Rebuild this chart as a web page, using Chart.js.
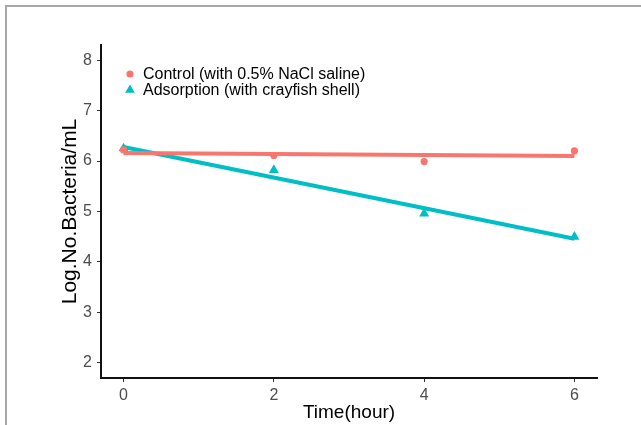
<!DOCTYPE html>
<html>
<head>
<meta charset="utf-8">
<script src="https://cdn.jsdelivr.net/npm/chart.js@4"></script>
<style>
  html,body{margin:0;padding:0;background:#fff;}
  #wrap{position:relative;width:641px;height:425px;overflow:hidden;}
  #frame{position:absolute;left:5px;top:5px;right:-10px;bottom:-10px;border-top:2px solid #a8a8a8;border-left:2px solid #a8a8a8;}
  canvas{position:absolute;left:0;top:0;}
</style>
</head>
<body>
<div id="wrap">
  <div id="frame"></div>
  <canvas id="c" width="641" height="425"></canvas>
</div>
<script>
/* ---- data ---- */
const timeX      = [0, 2, 4, 6];
const controlY   = [6.22, 6.11, 5.99, 6.20];
const adsorbY    = [6.25, 5.82, 4.96, 4.50];
const fitX       = [0, 6];
const controlFit = [6.16, 6.10];
const adsorbFit  = [6.28, 4.46];
const xTicks = [0, 2, 4, 6];
const yTicks = [2, 3, 4, 5, 6, 7, 8];
const labels = ['Control (with 0.5% NaCl saline)', 'Adsorption (with crayfish shell)'];

const RED = '#F8766D', TEAL = '#00BFC4';
const FONT = "'Liberation Sans', Arial, sans-serif";
const pts = (xs, ys) => xs.map((x, i) => ({x: x, y: ys[i]}));

/* legend drawn inside the panel, top-left */
const insideLegend = {
  id: 'insideLegend',
  afterDraw(chart){
    const ctx = chart.ctx;
    const items = chart.data.datasets.filter(d => d.inLegend);
    ctx.save();
    ctx.font = '16px ' + FONT;
    ctx.textBaseline = 'middle';
    ctx.textAlign = 'left';
    items.forEach((d, i) => {
      const y = 74 + i * 16, x = 130;
      ctx.fillStyle = d.backgroundColor;
      ctx.beginPath();
      if(d.pointStyle === 'triangle'){
        const r = 5.6;
        ctx.moveTo(x, y - r);
        ctx.lineTo(x + r*0.866, y + r/2);
        ctx.lineTo(x - r*0.866, y + r/2);
        ctx.closePath();
      } else {
        ctx.arc(x, y, 3.6, 0, Math.PI*2);
      }
      ctx.fill();
      ctx.fillStyle = '#000';
      ctx.fillText(d.label, 143, y + 1);
    });
    ctx.restore();
  }
};

new Chart(document.getElementById('c'), {
  type: 'scatter',
  data: {
    datasets: [
      {label: labels[0], data: pts(timeX, controlY), backgroundColor: RED, borderColor: RED,
       pointStyle: 'circle', pointRadius: 3.6, pointBorderWidth: 0, order: 1, inLegend: true},
      {label: labels[1], data: pts(timeX, adsorbY), backgroundColor: TEAL, borderColor: TEAL,
       pointStyle: 'triangle', pointRadius: 5.8, pointBorderWidth: 0, order: 1, inLegend: true},
      {label: 'fit control', data: pts(fitX, controlFit), showLine: true, borderColor: RED,
       borderWidth: 4, pointRadius: 0, borderCapStyle: 'butt', order: 2},
      {label: 'fit adsorption', data: pts(fitX, adsorbFit), showLine: true, borderColor: TEAL,
       borderWidth: 4, pointRadius: 0, borderCapStyle: 'butt', order: 2}
    ]
  },
  options: {
    responsive: false,
    animation: false,
    devicePixelRatio: 1,
    layout: {padding: {left: 40, top: 45, right: 44, bottom: 0}},
    plugins: {legend: {display: false}, tooltip: {enabled: false}},
    scales: {
      x: {
        type: 'linear', min: -0.3, max: 6.3,
        afterBuildTicks: s => { s.ticks = xTicks.map(v => ({value: v})); },
        afterFit: s => { s.height = 47; },
        grid: {drawOnChartArea: false, drawTicks: true, tickLength: 4, color: '#333', lineWidth: 1},
        border: {display: true, color: '#111', width: 2},
        ticks: {color: '#4d4d4d', font: {family: FONT, size: 16}, padding: 4},
        title: {display: true, text: 'Time(hour)', color: '#000',
                font: {family: FONT, size: 19, lineHeight: 1}, padding: {top: 0, bottom: 3}}
      },
      y: {
        type: 'linear', min: 1.7, max: 8.3,
        afterBuildTicks: s => { s.ticks = yTicks.map(v => ({value: v})); },
        afterFit: s => { s.width = 61; },
        grid: {drawOnChartArea: false, drawTicks: true, tickLength: 4, color: '#333', lineWidth: 1},
        border: {display: true, color: '#111', width: 2},
        ticks: {color: '#4d4d4d', font: {family: FONT, size: 16}, padding: 5},
        title: {display: true, text: 'Log.No.Bacteria/mL', color: '#000',
                font: {family: FONT, size: 21, lineHeight: 1}, padding: {top: 20, bottom: 0}}
      }
    }
  },
  plugins: [insideLegend]
});
</script>
</body>
</html>
